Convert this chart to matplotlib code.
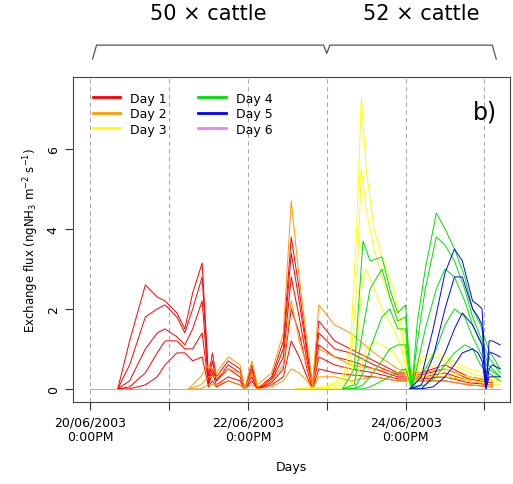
import numpy as np
import matplotlib.pyplot as plt

# x in days after 20/06/2003 noon, y exchange flux
red_x = [0.35,0.5,0.7,0.85,0.95,1.1,1.2,1.3,1.42,1.5,1.55,1.6,1.75,1.9,1.96,2.05,2.12,2.3,2.45,2.55,2.65,2.75,2.82,2.9,3.1,3.3,3.6,3.9,4.2,4.5,4.8,5.1]
red_ys = [
    [0,1.2,2.6,2.3,2.2,1.9,1.5,2.4,3.15,0.3,0.9,0.3,0.7,0.5,0,0.6,0,0.3,1.2,3.8,2.5,1.0,0,1.7,1.2,1.0,0.7,0.4,0.4,0.6,0.3,0.2],
    [0,0.6,1.8,2.0,2.1,1.8,1.4,2.0,2.8,0.2,0.7,0.2,0.6,0.4,0,0.5,0,0.25,1.0,3.4,2.2,0.9,0,1.4,1.0,0.9,0.6,0.35,0.35,0.5,0.25,0.15],
    [0,0.2,1.0,1.4,1.5,1.3,1.1,1.5,2.2,0.15,0.5,0.2,0.5,0.3,0,0.4,0,0.2,0.8,2.8,1.8,0.7,0,1.1,0.8,0.7,0.5,0.3,0.3,0.4,0.2,0.1],
    [0,0.05,0.4,0.9,1.2,1.2,1.0,1.0,1.4,0.1,0.4,0.1,0.3,0.2,0,0.3,0,0.15,0.5,2.0,1.4,0.5,0,0.8,0.6,0.5,0.4,0.25,0.25,0.3,0.15,0.1],
    [0,0,0.1,0.3,0.6,0.9,0.9,0.7,0.8,0.05,0.2,0.05,0.2,0.1,0,0.2,0,0.1,0.3,1.2,0.8,0.3,0,0.5,0.4,0.35,0.3,0.2,0.2,0.2,0.1,0.05],
]
orange_x = [1.25,1.4,1.5,1.6,1.75,1.9,1.96,2.05,2.12,2.3,2.45,2.55,2.65,2.75,2.82,2.9,3.1,3.3,3.6,3.9,4.2,4.5,4.8,5.1]
orange_ys = [
    [0,0.3,0.6,0.4,0.8,0.6,0,0.7,0.1,0.4,1.4,4.7,2.8,1.2,0.1,2.1,1.6,1.4,0.9,0.5,0.4,0.5,0.3,0.2],
    [0,0.1,0.3,0.3,0.5,0.4,0,0.4,0.05,0.2,0.6,2.2,1.2,0.6,0.05,1.0,0.8,0.6,0.5,0.4,0.3,0.3,0.2,0.1],
    [0,0,0.1,0.1,0.2,0.1,0,0.1,0,0.05,0.2,0.5,0.4,0.2,0,0.3,0.3,0.2,0.3,0.2,0.2,0.2,0.1,0.05],
]
yellow_x = [2.6,3.0,3.2,3.3,3.38,3.44,3.5,3.6,3.7,3.85,3.95,4.0,4.05,4.2,4.4,4.6,4.8,5.0,5.2]
yellow_ys = [
    [0,0.05,0.3,1.0,4.0,7.3,5.5,4.0,3.3,2.5,1.6,0.9,0.3,0.8,0.9,0.7,0.5,0.4,0.3],
    [0,0.05,0.2,0.6,2.5,5.5,4.5,3.5,2.8,2.0,1.4,0.8,0.2,0.7,0.8,0.6,0.4,0.3,0.2],
    [0,0,0.1,0.3,1.0,2.5,3.0,2.5,2.0,1.5,1.0,0.6,0.1,0.5,0.6,0.4,0.3,0.2,0.2],
    [0,0,0,0.1,0.3,0.6,1.0,1.2,1.1,0.9,0.6,0.4,0.1,0.3,0.4,0.3,0.2,0.15,0.1],
]
green_x = [3.2,3.35,3.46,3.55,3.7,3.8,3.9,4.0,4.03,4.08,4.15,4.25,4.39,4.5,4.62,4.75,4.85,4.95,5.05,5.2]
green_ys = [
    [0,0.5,3.7,3.2,3.3,2.5,1.9,2.1,1.2,0,1.7,3.0,4.4,4.0,3.5,2.8,2.0,1.6,1.0,0.5],
    [0,0.1,1.5,2.5,3.0,2.3,1.7,1.8,1.0,0,1.2,2.5,3.8,3.6,3.2,2.5,1.8,1.3,0.8,0.4],
    [0,0,0.4,1.0,1.8,2.0,1.5,1.5,0.8,0,0.6,1.5,2.5,3.0,2.8,2.2,1.6,1.2,0.6,0.3],
    [0,0,0.1,0.3,0.7,1.0,1.1,1.1,0.6,0,0.2,0.5,1.0,1.6,2.0,1.8,1.3,0.9,0.5,0.3],
    [0,0,0,0.05,0.2,0.3,0.4,0.5,0.3,0,0.05,0.1,0.3,0.6,0.9,1.1,1.0,0.6,0.4,0.2],
]
blue_x = [4.05,4.2,4.35,4.5,4.62,4.72,4.85,4.92,4.97,5.02,5.06,5.1,5.2]
blue_ys = [
    [0,0.3,1.5,2.9,3.5,3.2,2.2,2.1,2.0,0.1,1.2,1.2,1.1],
    [0,0.1,0.8,2.0,2.8,2.8,2.0,1.8,1.6,0.1,0.9,0.9,0.8],
    [0,0,0.3,0.9,1.5,1.9,1.6,1.3,1.1,0,0.5,0.6,0.5],
    [0,0,0.05,0.3,0.6,0.9,1.0,0.9,0.7,0,0.3,0.3,0.3],
]
violet_x = [0, 5.2]
violet_ys = [[0, 0]]

groups = [
    ("Day 1", "#ff0000", red_x, red_ys),
    ("Day 2", "#ff9900", orange_x, orange_ys),
    ("Day 3", "#ffff00", yellow_x, yellow_ys),
    ("Day 4", "#00e000", green_x, green_ys),
    ("Day 5", "#0000ff", blue_x, blue_ys),
    ("Day 6", "#ee82ee", violet_x, violet_ys),
]

fig = plt.figure(figsize=(5.13, 4.85), dpi=100)
ax = fig.add_axes([0.142, 0.169, 0.853, 0.670])

for label, col, xs, ys in groups:
    for i, y in enumerate(ys):
        ax.plot(xs, y, color=col, lw=0.7, label=label if i == 0 else None)

for t in range(6):
    ax.axvline(t, color="#aaaaaa", ls=(0, (4, 3)), lw=0.8, zorder=0)

ax.set_xlim(-0.22, 5.33)
ax.set_ylim(-0.33, 7.8)
ax.set_xticks(range(6))
ax.set_xticklabels(["20/06/2003\n0:00PM", "", "22/06/2003\n0:00PM", "", "24/06/2003\n0:00PM", ""], fontsize=9)
ax.set_yticks([0, 2, 4, 6])
ax.set_yticklabels(["0", "2", "4", "6"], rotation=90, va="center", fontsize=9)
ax.tick_params(direction="out", length=6, color="#333333")
for s in ax.spines.values():
    s.set_color("#444444")
ax.set_xlabel("Days", fontsize=9, labelpad=12)
ax.set_ylabel("Exchange flux (ngNH$_3$ m$^{-2}$ s$^{-1}$)", fontsize=8.5)

leg = ax.legend(ncol=2, loc="upper left", frameon=False, fontsize=9,
                handlelength=2.2, columnspacing=2.5, labelspacing=0.2,
                bbox_to_anchor=(0.02, 0.99))
for h in leg.get_lines():
    h.set_linewidth(2)

ax.text(0.97, 0.93, "b)", transform=ax.transAxes, ha="right", va="top", fontsize=17)

# braces above plot
by, bd = 8.6, 0.35
bx = [0.03, 0.08, 2.96, 3.0, 3.04, 5.1, 5.15]
byv = [by - bd, by, by, by - bd * 0.6, by, by, by - bd]
ax.plot(bx, byv, color="#555555", lw=0.9, clip_on=False)
ax.text(1.5, 9.4, "50 × cattle", ha="center", va="center", fontsize=15)
ax.text(4.2, 9.4, "52 × cattle", ha="center", va="center", fontsize=15)

fig.savefig("out.png", dpi=100)
